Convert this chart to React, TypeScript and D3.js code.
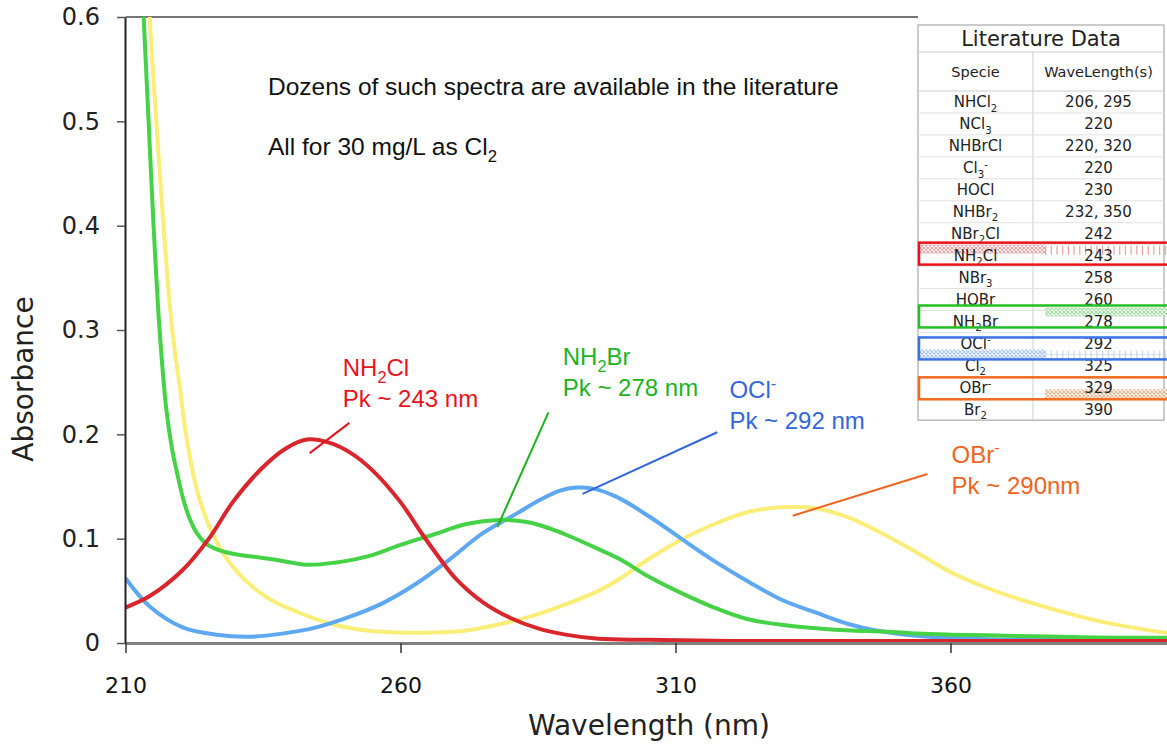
import * as d3 from "d3";
import { useRef, useEffect } from "react";

// spectra: wavelength (nm) / absorbance
const nh2clNm = [210, 214.4, 220.4, 225.3, 229.5, 234.7, 239, 243, 247, 251, 255, 260, 264, 267, 270, 275, 280, 285, 290, 296, 305, 320, 340, 360, 380, 400];
const nh2clAbs = [0.034, 0.045, 0.07, 0.101, 0.135, 0.167, 0.186, 0.195, 0.192, 0.182, 0.165, 0.135, 0.104, 0.082, 0.062, 0.039, 0.024, 0.014, 0.008, 0.004, 0.003, 0.002, 0.002, 0.002, 0.002, 0.002];

const nh2brNm = [212.5, 213.3, 214.2, 215.1, 216.2, 217.4, 218.5, 219.5, 220.4, 221.6, 223, 224.7, 227, 230, 233, 237, 243, 248, 254, 260, 266, 272, 278, 283, 287, 290, 296, 300, 305, 311, 317, 323, 330, 336, 342, 348, 354, 360, 370, 380, 390, 400];
const nh2brAbs = [0.7, 0.6, 0.5, 0.4, 0.3, 0.225, 0.185, 0.16, 0.14, 0.12, 0.105, 0.095, 0.089, 0.085, 0.083, 0.08, 0.075, 0.077, 0.083, 0.094, 0.104, 0.114, 0.118, 0.116, 0.11, 0.104, 0.09, 0.08, 0.064, 0.048, 0.034, 0.023, 0.017, 0.014, 0.012, 0.011, 0.009, 0.008, 0.007, 0.006, 0.005, 0.005];

const oclNm = [210, 214.4, 220.4, 226.5, 232.5, 238.5, 244.7, 250.7, 256.7, 262.9, 268.9, 274.9, 281.1, 285.3, 289, 292, 295, 299.3, 305.3, 311.3, 317.5, 323.5, 329.5, 335.6, 341.6, 347.6, 353.8, 360, 370, 380, 390, 400];
const oclAbs = [0.062, 0.035, 0.015, 0.008, 0.006, 0.009, 0.015, 0.025, 0.038, 0.057, 0.08, 0.105, 0.124, 0.137, 0.146, 0.149, 0.148, 0.14, 0.121, 0.099, 0.077, 0.058, 0.041, 0.029, 0.018, 0.011, 0.007, 0.005, 0.003, 0.003, 0.002, 0.002];

const obrNm = [213.6, 214.4, 215.6, 216.9, 218.5, 220, 221, 222.6, 223.5, 225.8, 229.5, 235.6, 241.6, 247.6, 253.8, 259.8, 265.8, 272, 278, 284, 290, 296, 300, 305, 311, 317.5, 323.5, 329.5, 335.6, 341.6, 347.6, 353.8, 360, 367, 375, 387, 400];
const obrAbs = [0.7, 0.6, 0.5, 0.4, 0.3, 0.24, 0.2, 0.155, 0.137, 0.105, 0.073, 0.044, 0.029, 0.018, 0.012, 0.01, 0.01, 0.012, 0.018, 0.026, 0.037, 0.05, 0.062, 0.08, 0.099, 0.115, 0.126, 0.13, 0.129, 0.12, 0.105, 0.087, 0.068, 0.052, 0.038, 0.021, 0.009];

const xTicks = [210, 260, 310, 360];
const yTicks = [0, 0.1, 0.2, 0.3, 0.4, 0.5, 0.6];

// literature table
const tableSpecies = ["NHCl_2", "NCl_3", "NHBrCl", "Cl_3^-", "HOCl", "NHBr_2", "NBr_2Cl", "NH_2Cl", "NBr_3", "HOBr", "NH_2Br", "OCl^-", "Cl_2", "OBr^-", "Br_2"];
const tableWavelengths = ["206, 295", "220", "220, 320", "220", "230", "232, 350", "242", "243", "258", "260", "278", "292", "325", "329", "390"];

const series = [
  { name: "OBr-", nm: obrNm, abs: obrAbs, color: "#fbee78" },
  { name: "OCl-", nm: oclNm, abs: oclAbs, color: "#5ea8f2" },
  { name: "NH2Br", nm: nh2brNm, abs: nh2brAbs, color: "#46d246" },
  { name: "NH2Cl", nm: nh2clNm, abs: nh2clAbs, color: "#d8262c" },
];

// callouts, positioned in data units
const callouts = [
  { lines: ["NH_2Cl", "Pk ~ 243 nm"], color: "#e8141c", text: [249.5, 0.256], from: [250.7, 0.211], to: [243.5, 0.182] },
  { lines: ["NH_2Br", "Pk ~ 278 nm"], color: "#1db31d", text: [289.5, 0.266], from: [286.9, 0.221], to: [277.6, 0.111] },
  { lines: ["OCl^-", "Pk ~ 292 nm"], color: "#3366dd", text: [319.8, 0.235], from: [317.6, 0.202], to: [293.1, 0.143] },
  { lines: ["OBr^-", "Pk ~ 290nm"], color: "#f0641e", text: [360.2, 0.173], from: [355.8, 0.162], to: [331.3, 0.122] },
];

const highlights = [
  { row: 7, color: "#e8141c", fill: "#e6a3a6", side: "left", half: "top", shift: -2 },
  { row: 10, color: "#22c022", fill: "#9fdc9f", side: "right", half: "top", shift: -5 },
  { row: 11, color: "#3a72e6", fill: "#a9c2ee", side: "left", half: "bottom", shift: 5 },
  { row: 13, color: "#f26b1d", fill: "#e8b48e", side: "right", half: "bottom", shift: 1 },
];

function chem(label: string, size: number) {
  const parts = label.match(/_\d+|\^[-+]|[^_^]+/g) || [];
  let cur = 0;
  return parts.map((p, i) => {
    const target = p[0] === "_" ? 0.28 * size : p[0] === "^" ? -0.38 * size : 0;
    const dy = target - cur;
    cur = target;
    const t = target ? p.slice(1) : p;
    return (
      <tspan key={i} dy={dy} fontSize={target ? size * 0.68 : size}>
        {t}
      </tspan>
    );
  });
}

export default function App() {
  const svgRef = useRef<SVGSVGElement>(null);

  const width = 1167;
  const height = 749;

  const x = d3.scaleLinear().domain([210, 400]).range([125.5, 1170.5]);
  const y = d3.scaleLinear().domain([0, 0.6]).range([643, 17]);

  const line = d3
    .line<[number, number]>()
    .x((d) => x(d[0]))
    .y((d) => y(d[1]))
    .curve(d3.curveCatmullRom.alpha(0.5));

  useEffect(() => {
    const svg = d3.select(svgRef.current);

    const ya = svg
      .select<SVGGElement>(".y-axis")
      .attr("transform", `translate(${x(210) - 0.5},0)`)
      .call(
        d3
          .axisLeft(y)
          .tickValues(yTicks)
          .tickSize(8)
          .tickSizeOuter(0)
          .tickPadding(17)
          .tickFormat((d) => (d === 0 ? "0" : d3.format(".1f")(d as number)))
      );
    ya.select(".domain").attr("stroke", "#222").attr("stroke-width", 2);
    ya.selectAll(".tick line").attr("stroke", "#555").attr("stroke-width", 1.5);
    ya.selectAll(".tick text")
      .attr("font-family", "DejaVu Sans")
      .attr("font-size", 24)
      .attr("fill", "#222");

    const xa = svg
      .select<SVGGElement>(".x-axis")
      .attr("transform", `translate(0,${y(0)})`)
      .call(d3.axisBottom(x).tickValues(xTicks).tickSize(10).tickSizeOuter(0).tickPadding(24).tickFormat(d3.format("d")));
    xa.select(".domain").attr("stroke", "#808080").attr("stroke-width", 3);
    xa.selectAll(".tick line").attr("stroke", "#333").attr("stroke-width", 1.5);
    xa.selectAll(".tick text")
      .attr("font-family", "DejaVu Sans")
      .attr("font-size", 22)
      .attr("fill", "#111");
  }, []);

  // table geometry
  const tx0 = 918;
  const tx1 = 1164;
  const tDiv = 1033;
  const rowTop = 91;
  const rowH = 21.95;
  const tBottom = rowTop + rowH * tableSpecies.length;
  const leftC = (tx0 + tDiv) / 2;
  const rightC = (tDiv + tx1) / 2;

  return (
    <svg
      ref={svgRef}
      width={width}
      height={height}
      style={{ position: "absolute", left: 0, top: 0, background: "#fff" }}
    >
      <defs>
        <clipPath id="plot">
          <rect x={x(210)} y={y(0.6)} width={width - x(210)} height={y(0) - y(0.6)} />
        </clipPath>
        {highlights.map((h) => (
          <pattern key={h.row} id={`hatch-${h.row}`} width={4} height={4} patternUnits="userSpaceOnUse">
            <rect width={4} height={4} fill="#fff" />
            <path d="M0,0L4,4M4,0L0,4" stroke={h.fill} strokeWidth={1.1} />
          </pattern>
        ))}
      </defs>

      {/* frame top */}
      <line x1={x(210)} x2={tx0} y1={y(0.6)} y2={y(0.6)} stroke="#777" strokeWidth={2} />

      {/* spectra */}
      <g clipPath="url(#plot)">
        {series.map((s) => (
          <path
            key={s.name}
            d={line(s.nm.map((n, i) => [n, s.abs[i]] as [number, number])) || ""}
            fill="none"
            stroke={s.color}
            strokeWidth={4}
            strokeLinejoin="round"
          />
        ))}
      </g>

      <g className="x-axis" />
      <g className="y-axis" />

      {/* axis titles */}
      <text x={649} y={735} textAnchor="middle" fontFamily="DejaVu Sans" fontSize={28} fill="#222">
        Wavelength (nm)
      </text>
      <text
        transform="translate(33,379) rotate(-90)"
        textAnchor="middle"
        fontFamily="DejaVu Sans"
        fontSize={28}
        fill="#222"
      >
        Absorbance
      </text>

      {/* notes */}
      <text x={268} y={95} fontFamily="Liberation Sans" fontSize={24.5} fill="#111">
        Dozens of such spectra are available in the literature
      </text>
      <text x={268} y={155} fontFamily="Liberation Sans" fontSize={24.5} fill="#111">
        {chem("All for 30 mg/L as Cl_2", 24.5)}
      </text>

      {/* callouts */}
      {callouts.map((c, k) => (
        <g key={k}>
          <line
            x1={x(c.from[0])}
            y1={y(c.from[1])}
            x2={x(c.to[0])}
            y2={y(c.to[1])}
            stroke={c.color}
            strokeWidth={2}
          />
          {c.lines.map((t, j) => (
            <text
              key={j}
              x={x(c.text[0])}
              y={y(c.text[1]) + j * 31}
              fontFamily="Liberation Sans"
              fontSize={24}
              fill={c.color}
            >
              {chem(t, 24)}
            </text>
          ))}
        </g>
      ))}

      {/* literature table */}
      <g>
        <rect x={tx0} y={25} width={tx1 - tx0} height={tBottom - 25} fill="#fff" stroke="#bbb" strokeWidth={1.5} />
        <line x1={tx0} x2={tx1} y1={52} y2={52} stroke="#ccc" />
        <line x1={tx0} x2={tx1} y1={rowTop} y2={rowTop} stroke="#ccc" />
        <line x1={tDiv} x2={tDiv} y1={52} y2={tBottom} stroke="#ccc" />
        {tableSpecies.map((_, i) =>
          i > 0 ? (
            <line key={i} x1={tx0} x2={tx1} y1={rowTop + rowH * i} y2={rowTop + rowH * i} stroke="#e2e2e2" />
          ) : null
        )}
        <text x={(tx0 + tx1) / 2} y={46} textAnchor="middle" fontFamily="DejaVu Sans" fontSize={21} fill="#222">
          Literature Data
        </text>
        <text x={leftC} y={77} textAnchor="middle" fontFamily="DejaVu Sans" fontSize={14.5} fill="#222">
          Specie
        </text>
        <text x={rightC} y={77} textAnchor="middle" fontFamily="DejaVu Sans" fontSize={14.5} fill="#222">
          WaveLength(s)
        </text>

        {highlights.map((h) => {
          const top = rowTop + rowH * h.row + h.shift;
          const hy = h.half === "top" ? top + 2 : top + rowH / 2 + 1;
          const hx0 = h.side === "left" ? tx0 + 2 : 1045;
          const hx1 = h.side === "left" ? 1045 : tx1 + 6;
          return (
            <g key={h.row}>
              <rect x={hx0} y={hy} width={hx1 - hx0} height={rowH / 2 - 2} fill={`url(#hatch-${h.row})`} />
              {h.side === "left" ? (
                <line
                  x1={1045}
                  x2={tx1 + 6}
                  y1={hy + rowH / 4}
                  y2={hy + rowH / 4}
                  stroke={h.fill}
                  strokeWidth={rowH / 2 - 2}
                  strokeDasharray="1.2 4.5"
                  opacity={h.half === "top" ? 1 : 0.6}
                />
              ) : null}
            </g>
          );
        })}

        {tableSpecies.map((s, i) => (
          <g key={s}>
            <text
              x={leftC}
              y={rowTop + rowH * (i + 0.5) + 5.5}
              textAnchor="middle"
              fontFamily="DejaVu Sans"
              fontSize={15}
              fill="#222"
            >
              {chem(s, 15)}
            </text>
            <text
              x={rightC}
              y={rowTop + rowH * (i + 0.5) + 5.5}
              textAnchor="middle"
              fontFamily="DejaVu Sans"
              fontSize={15}
              fill="#222"
            >
              {tableWavelengths[i]}
            </text>
          </g>
        ))}

        {highlights.map((h) => (
          <rect
            key={h.row}
            x={tx0 + 1}
            y={rowTop + rowH * h.row + h.shift}
            width={tx1 - tx0 + 12}
            height={rowH}
            fill="none"
            stroke={h.color}
            strokeWidth={2.5}
          />
        ))}
      </g>
    </svg>
  );
}
